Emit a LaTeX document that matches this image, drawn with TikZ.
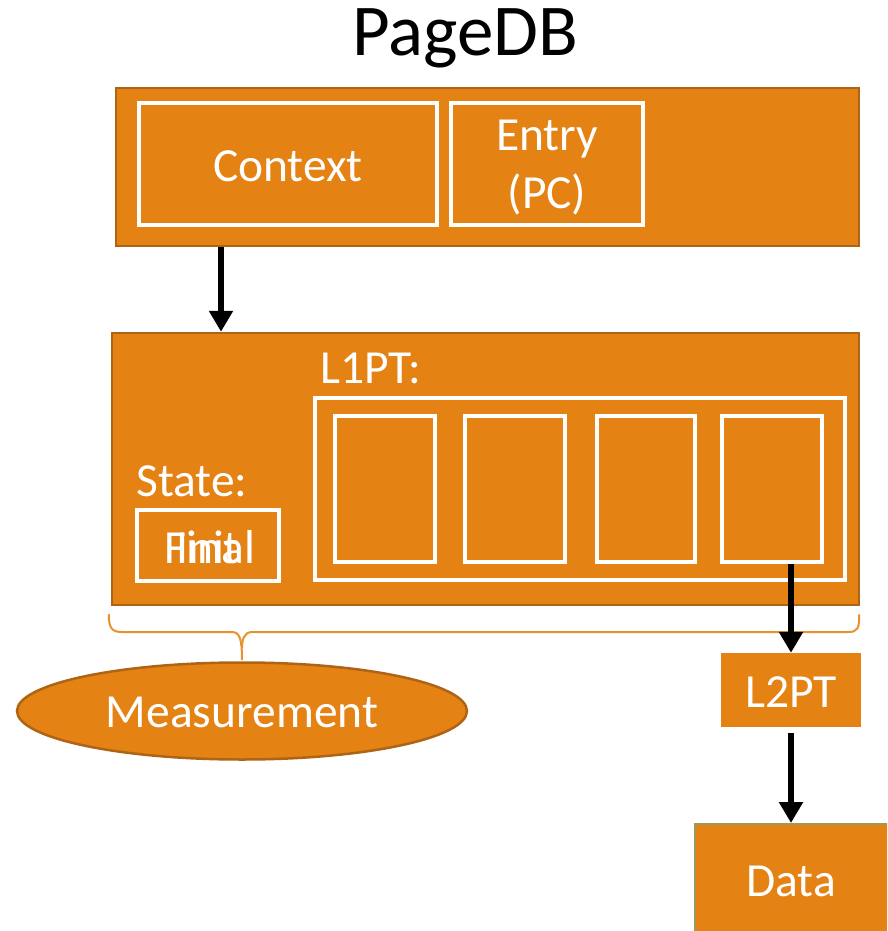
\documentclass[tikz,border=0pt]{standalone}
\usepackage{fontspec}
\setmainfont{Carlito}
\usetikzlibrary{arrows.meta,shapes.geometric}
\definecolor{boxfill}{HTML}{E48213}
\definecolor{boxedge}{HTML}{AE6414}
\definecolor{braceor}{HTML}{E8922E}
\definecolor{dataedge}{HTML}{9C9A5A}
\tikzset{
  outerbox/.style={draw=boxedge, line width=2.5pt, fill=boxfill, rectangle, inner sep=0pt},
  whitebox/.style={draw=white, line width=4pt, rectangle, inner sep=0pt},
  lbl/.style={text=white, font=\fontsize{47.5}{58}\selectfont, inner sep=0pt, align=center},
  arr/.style={draw=black, line width=6.5pt, -{Triangle[width=23pt,length=21pt]}},
}
\begin{document}
\begin{tikzpicture}[x=1pt,y=-1pt]
\clip (0,0) rectangle (887,931);
\fill[white] (0,0) rectangle (887,931);

% title
\node[font=\fontsize{73}{80}\selectfont, inner sep=0pt] (title) at (465,38) {PageDB};

% top record
\node[outerbox, minimum width=743pt, minimum height=158pt] (top) at (487.5,167) {};
\node[whitebox, minimum width=298pt, minimum height=122pt] (ctx) at (288,164) {};
\node[lbl] (ctxt) at (288,166) {Context};
\node[whitebox, minimum width=192pt, minimum height=122pt] (entry) at (547,164) {};
\node[lbl] (entryt) at (547,168) {Entry\\(PC)};

% page record
\node[outerbox, minimum width=747pt, minimum height=272pt] (page) at (485.5,469) {};
\node[lbl, anchor=west] (l1lbl) at (320,368) {L1PT:};
\node[whitebox, minimum width=530pt, minimum height=182pt] (l1) at (580,489) {};
\node[whitebox, minimum width=100pt, minimum height=146pt] (p1) at (385,489) {};
\node[whitebox, minimum width=100pt, minimum height=146pt] (p2) at (515,489) {};
\node[whitebox, minimum width=98pt, minimum height=146pt] (p3) at (646,489) {};
\node[whitebox, minimum width=100pt, minimum height=146pt] (p4) at (772,489) {};
\node[lbl, anchor=west] (statelbl) at (136,481) {State:};
\node[whitebox, minimum width=142pt, minimum height=71pt] (state) at (208,545.5) {};
% the two possible states are printed on top of each other
\node[lbl] (stinit) at (208,547) {Init};
\node[lbl] (stfinal) at (210,547) {Final};

% brace under the page record
\draw[braceor, line width=2pt] (page.south west) ++(-2,8)
  .. controls ++(0,14) and (112,632) .. (122,632) -- (232,632)
  .. controls (240,632) and (242,640) .. (242,660);
\draw[braceor, line width=2pt] (page.south east) ++(-1,8)
  .. controls ++(0,14) and (858,632) .. (848,632) -- (252,632)
  .. controls (244,632) and (242,640) .. (242,648);

% measurement
\node[ellipse, draw=boxedge, line width=2.5pt, fill=boxfill, minimum width=450pt, minimum height=97pt, inner sep=0pt] (meas) at (242,711) {};
\node[lbl] (meast) at (242,712) {Measurement};

% second-level table and data
\node[fill=boxfill, minimum width=140pt, minimum height=74pt, inner sep=0pt] (l2) at (791,690) {};
\node[lbl] (l2t) at (791,692) {L2PT};
\node[draw=dataedge, line width=2pt, fill=boxfill, minimum width=200pt, minimum height=120pt, inner sep=0pt] (data) at (795,884) {};
\node[lbl] (datat) at (791,881) {Data};

% connectors
\coordinate (ax) at (221,0);
\draw[arr] (top.south -| ax) -- (page.north -| ax);
\draw[arr] (p4.south -| l2.north) -- (l2.north);
\draw[arr, shorten <=6pt] (l2.south) -- (data.north -| l2.south);
\end{tikzpicture}
\end{document}
